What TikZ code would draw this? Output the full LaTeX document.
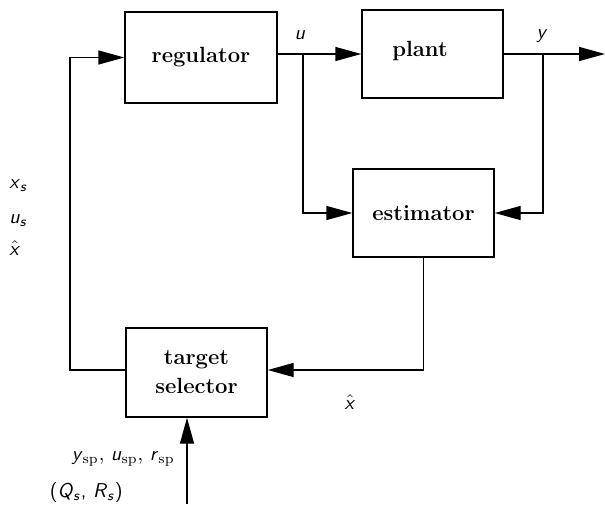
\documentclass[tikz,border=0pt]{standalone}
\usetikzlibrary{arrows.meta}
\newcommand{\sv}[1]{\textsf{\textit{#1}}}
\begin{document}
\begin{tikzpicture}[x=0.5pt,y=-0.5pt,
  blk/.style={draw,line width=0.7pt,inner sep=0pt,font=\fontsize{11}{13.5}\selectfont\bfseries,align=center},
  conn/.style={line width=0.7pt},
  arr/.style={conn,-{Triangle[length=13pt,width=7pt]}},
  lbl/.style={inner sep=0pt}]
\useasboundingbox (0,0) rectangle (605,504);
\node[blk,minimum width=76pt,minimum height=45.5pt] (reg) at (201,57.5) {regulator};
\node[blk,minimum width=70.5pt,minimum height=44pt] (plant) at (432.5,54) {};
\node[font=\fontsize{11}{13.5}\selectfont\bfseries] (plantt) at (420,51) {plant};
\node[blk,minimum width=70.5pt,minimum height=44pt] (est) at (423.5,213) {estimator};
\node[blk,minimum width=70.5pt,minimum height=44.5pt] (ts) at (196.5,372.5) {target\\[1pt]selector};
\coordinate (uj) at (303,54);
\coordinate (yj) at (543,54);
\coordinate (yout) at (605,54);
\coordinate (ll) at (70,370);
\coordinate (bin) at (187,504);
% u
\draw[arr] (reg.east |- uj) -- (plant.west |- uj);
\draw[arr] (uj) -- (uj |- est.west) -- (est.west);
% y
\draw[arr] (plant.east |- yj) -- (yout);
\draw[arr] (yj) -- (yj |- est.east) -- (est.east);
% estimator to target selector
\draw[arr] (est.south) -- (est.south |- ll) -- (ts.east |- ll);
% target selector to regulator
\draw[arr] (ts.west |- ll) -- (ll) -- (ll |- reg.west) -- (reg.west);
% bottom input
\draw[arr] (bin) -- (bin |- ts.south);
% labels
\node[lbl] (lu) at (300,35) {\sv{u}};
\node[lbl] (ly) at (542,36) {\sv{y}};
\node[lbl] (lxh) at (350,402) {$\hat{\mbox{\sv{x}}}$};
\node[lbl,anchor=west] (lxs) at (9,186) {\sv{x}$_{\mbox{\scriptsize\sv{s}}}$};
\node[lbl,anchor=west] (lus) at (9,221) {\sv{u}$_{\mbox{\scriptsize\sv{s}}}$};
\node[lbl,anchor=west] (lxh2) at (9,248) {$\hat{\mbox{\sv{x}}}$};
\node[lbl,anchor=east] (lsp) at (175,459) {\sv{y}$_{\mathrm{sp}}$, \sv{u}$_{\mathrm{sp}}$, \sv{r}$_{\mathrm{sp}}$};
\node[lbl,anchor=east] (lqr) at (123,492) {\textsf{(}\sv{Q}$_{\mbox{\scriptsize\sv{s}}}$\textsf{, }\sv{R}$_{\mbox{\scriptsize\sv{s}}}$\textsf{)}};
\end{tikzpicture}
\end{document}
